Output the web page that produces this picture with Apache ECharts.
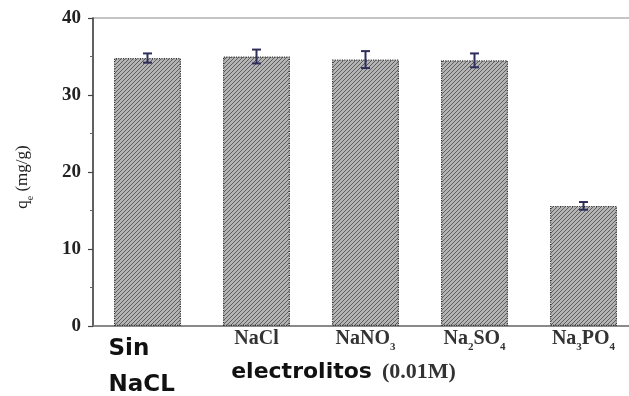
<!DOCTYPE html>
<html>
<head>
<meta charset="utf-8">
<script src="https://cdn.jsdelivr.net/npm/echarts@6/dist/echarts.min.js"></script>
<style>
  html, body { margin: 0; padding: 0; background: #fff; }
  #chart { width: 629px; height: 396px; }
</style>
</head>
<body>
<div id="chart"></div>
<script>
// Adsorption capacity q_e for each electrolyte (0.01 M)
const categories = ['Sin NaCL', 'NaCl', 'NaNO3', 'Na2SO4', 'Na3PO4'];
const qeValues = [34.8, 35.0, 34.6, 34.5, 15.6];
const qeErrors = [0.6, 0.9, 1.1, 0.9, 0.5];
const yTicks = [0, 10, 20, 30, 40];

// Rich-text versions of the category labels (chemical subscripts)
const categoryRich = {
  'Sin NaCL': '{s|Sin}\n{s|NaCL}',
  'NaCl': '{c|NaCl}',
  'NaNO3': '{c|NaNO}{sub|3}',
  'Na2SO4': '{c|Na}{sub|2}{c|SO}{sub|4}',
  'Na3PO4': '{c|Na}{sub|3}{c|PO}{sub|4}'
};

// Diagonal hatch tile for the bars
function hatchTile() {
  const c = document.createElement('canvas');
  c.width = 4; c.height = 4;
  const g = c.getContext('2d');
  g.fillStyle = '#b4b4b4';
  g.fillRect(0, 0, 4, 4);
  g.fillStyle = '#5e5e5e';
  for (let i = 0; i < 4; i++) g.fillRect(3 - i, i, 1, 1);
  return c;
}

const serif = '"Liberation Serif", "Times New Roman", serif';
const sans = '"DejaVu Sans", sans-serif';

const chart = echarts.init(document.getElementById('chart'));

chart.setOption({
  animation: false,
  backgroundColor: '#fff',
  grid: {
    left: 93, right: -9, top: 18, bottom: 70,
    outerBoundsMode: 'none',
    containLabel: false,
    show: true, borderColor: '#8a8a8a', borderWidth: 1.2, backgroundColor: 'transparent'
  },
  xAxis: {
    type: 'category',
    data: categories,
    axisLine: { lineStyle: { color: '#777', width: 1.5 } },
    axisTick: { show: false },
    axisLabel: {
      margin: 5,
      interval: 0,
      formatter: v => categoryRich[v],
      rich: {
        s: { fontFamily: sans, fontWeight: 'bold', fontSize: 23, color: '#111', lineHeight: 36, width: 78, align: 'left' },
        c: { fontFamily: serif, fontWeight: 'bold', fontSize: 20, color: '#333', lineHeight: 18, verticalAlign: 'bottom' },
        sub: { fontFamily: serif, fontWeight: 'bold', fontSize: 11, color: '#333', lineHeight: 18, verticalAlign: 'bottom', padding: [0, 0, -4, 0] }
      }
    },
    name: '{a|electrolitos}   {b|(0.01M)}',
    nameLocation: 'middle',
    nameGap: 35,
    nameMoveOverlap: false,
    nameTextStyle: {
      padding: [0, 44, 0, 0],
      rich: {
        a: { fontFamily: sans, fontWeight: 'bold', fontSize: 22, color: '#111' },
        b: { fontFamily: serif, fontWeight: 'bold', fontSize: 22, color: '#333' }
      }
    }
  },
  yAxis: {
    type: 'value',
    min: yTicks[0],
    max: yTicks[yTicks.length - 1],
    interval: 10,
    splitLine: { show: false },
    axisLine: { show: true, lineStyle: { color: '#444', width: 1.5 } },
    axisTick: { show: true, length: 5, lineStyle: { color: '#444', width: 1.2 } },
    minorTick: { show: true, splitNumber: 2, length: 3, lineStyle: { color: '#666', width: 1 } },
    axisLabel: {
      margin: 12,
      fontFamily: serif, fontWeight: 'bold', fontSize: 19, color: '#222'
    },
    name: '{q|q}{e|e}{u| (mg/g)}',
    nameLocation: 'middle',
    nameRotate: 90,
    nameGap: 62,
    nameMoveOverlap: false,
    nameTextStyle: {
      padding: [0, 0, 0, -10],
      rich: {
        q: { fontFamily: serif, fontSize: 17, color: '#222' },
        e: { fontFamily: serif, fontSize: 10, color: '#222', verticalAlign: 'bottom', padding: [0, 0, -4, 0] },
        u: { fontFamily: serif, fontSize: 17, color: '#222' }
      }
    }
  },
  series: [
    {
      type: 'bar',
      data: qeValues,
      barWidth: 67,
      itemStyle: {
        color: { image: hatchTile(), repeat: 'repeat' },
        borderColor: '#333',
        borderWidth: 1.2,
        borderType: 'dotted'
      }
    },
    {
      type: 'custom',
      data: qeValues.map((v, i) => [i, v, qeErrors[i]]),
      z: 5,
      renderItem: function (params, api) {
        const x = api.value(0), y = api.value(1), e = api.value(2);
        const hi = api.coord([x, y + e]);
        const lo = api.coord([x, y - e]);
        const cap = 4.5;
        const style = { stroke: '#2e2e5c', lineWidth: 2 };
        return {
          type: 'group',
          children: [
            { type: 'line', shape: { x1: hi[0], y1: hi[1], x2: lo[0], y2: lo[1] }, style },
            { type: 'line', shape: { x1: hi[0] - cap, y1: hi[1], x2: hi[0] + cap, y2: hi[1] }, style },
            { type: 'line', shape: { x1: lo[0] - cap, y1: lo[1], x2: lo[0] + cap, y2: lo[1] }, style }
          ]
        };
      }
    }
  ]
});
</script>
</body>
</html>
